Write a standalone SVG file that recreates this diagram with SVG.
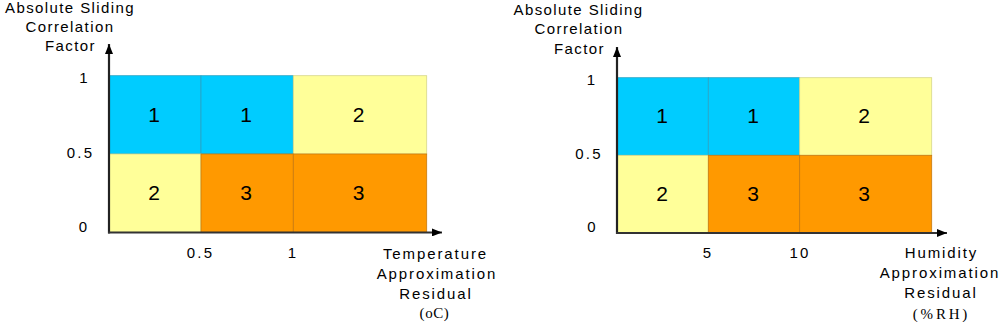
<svg xmlns="http://www.w3.org/2000/svg" width="1000" height="322" viewBox="0 0 1000 322">
<style>
text{font-family:"Liberation Sans",Arial,sans-serif;fill:#000}
.lab{font-size:15px;letter-spacing:1.4px;text-anchor:middle}
.xl{font-size:15px;letter-spacing:1.9px;text-anchor:middle}
.tick{font-size:15px;letter-spacing:2.2px;text-anchor:middle}
.unit{font-family:"Liberation Serif","Times New Roman",serif;font-size:15px;text-anchor:middle}
.num{font-size:21px;text-anchor:middle}
.c1{fill:#00CCFF;stroke:#2aa3c4;stroke-width:0.8}
.c2{fill:#FFFF99;stroke:#d6d68a;stroke-width:0.8}
.c3{fill:#FF9900;stroke:#c77a10;stroke-width:0.8}
.ax{stroke:#222;stroke-width:2.2;fill:none}
.axx{stroke:#333;stroke-width:2;fill:none}
</style>
<defs>
<marker id="ah" viewBox="0 0 10 8" refX="10" refY="4" markerWidth="10" markerHeight="8" markerUnits="userSpaceOnUse" orient="auto">
<path d="M0,0 L10,4 L0,8 Z" fill="#000"/>
</marker>
</defs>

<g id="chart-temperature">
<g id="t-cell-11"><rect class="c1" x="109" y="75.7" width="92" height="78.3"/><text class="num" x="154" y="122">1</text></g>
<g id="t-cell-12"><rect class="c1" x="201" y="75.7" width="92.3" height="78.3"/><text class="num" x="246" y="122">1</text></g>
<g id="t-cell-13"><rect class="c2" x="293.3" y="75.7" width="133.4" height="78.3"/><text class="num" x="358.5" y="122">2</text></g>
<g id="t-cell-21"><rect class="c2" x="109" y="154" width="92" height="78.3"/><text class="num" x="154" y="200">2</text></g>
<g id="t-cell-22"><rect class="c3" x="201" y="154" width="92.3" height="78.3"/><text class="num" x="246" y="200">3</text></g>
<g id="t-cell-23"><rect class="c3" x="293.3" y="154" width="133.4" height="78.3"/><text class="num" x="358.5" y="200">3</text></g>
<g id="t-ylabel"><text class="lab" x="70" y="12.5">Absolute Sliding</text><text class="lab" x="70" y="31.5">Correlation</text><text class="lab" x="70.5" y="51">Factor</text></g>
<g id="t-yticks"><text class="tick" x="84.5" y="83.3">1</text><text class="tick" x="80.5" y="158">0.5</text><text class="tick" x="84" y="232">0</text></g>
<g id="t-xticks"><text class="tick" x="200.5" y="258">0.5</text><text class="tick" x="293" y="258">1</text></g>
<g id="t-xlabel"><text class="xl" x="435.5" y="258.5">Temperature</text><text class="xl" x="437" y="278.5">Approximation</text><text class="xl" x="436" y="298.5">Residual</text><text class="unit" x="434.5" y="318" style="letter-spacing:0.6px">(oC)</text></g>
</g>

<g id="chart-humidity">
<g id="h-cell-11"><rect class="c1" x="617" y="77.7" width="91.3" height="77.6"/><text class="num" x="662" y="123">1</text></g>
<g id="h-cell-12"><rect class="c1" x="708.3" y="77.7" width="91.4" height="77.6"/><text class="num" x="753" y="123">1</text></g>
<g id="h-cell-13"><rect class="c2" x="799.7" y="77.7" width="132" height="77.6"/><text class="num" x="864" y="123">2</text></g>
<g id="h-cell-21"><rect class="c2" x="617" y="155.3" width="91.3" height="77.7"/><text class="num" x="662" y="200.5">2</text></g>
<g id="h-cell-22"><rect class="c3" x="708.3" y="155.3" width="91.4" height="77.7"/><text class="num" x="753" y="200.5">3</text></g>
<g id="h-cell-23"><rect class="c3" x="799.7" y="155.3" width="132" height="77.7"/><text class="num" x="864" y="200.5">3</text></g>
<g id="h-ylabel"><text class="lab" x="578.5" y="14.5">Absolute Sliding</text><text class="lab" x="579" y="34">Correlation</text><text class="lab" x="579.5" y="54">Factor</text></g>
<g id="h-yticks"><text class="tick" x="592" y="85">1</text><text class="tick" x="589" y="159">0.5</text><text class="tick" x="592.5" y="232">0</text></g>
<g id="h-xticks"><text class="tick" x="708" y="258">5</text><text class="tick" x="800" y="258">10</text></g>
<g id="h-xlabel"><text class="xl" x="941.5" y="257.5">Humidity</text><text class="xl" x="940" y="277.5">Approximation</text><text class="xl" x="941" y="297.5">Residual</text><text class="unit" x="941.5" y="319" style="letter-spacing:2.8px">(%RH)</text></g>
</g>

<g id="connectors">
<line class="ax" x1="109" y1="233.4" x2="109" y2="44" marker-end="url(#ah)"/>
<line class="axx" x1="108" y1="232.4" x2="442" y2="232.4" marker-end="url(#ah)"/>
<line class="ax" x1="617" y1="234" x2="617" y2="47" marker-end="url(#ah)"/>
<line class="axx" x1="616" y1="233" x2="947" y2="233" marker-end="url(#ah)"/>
</g>
</svg>
